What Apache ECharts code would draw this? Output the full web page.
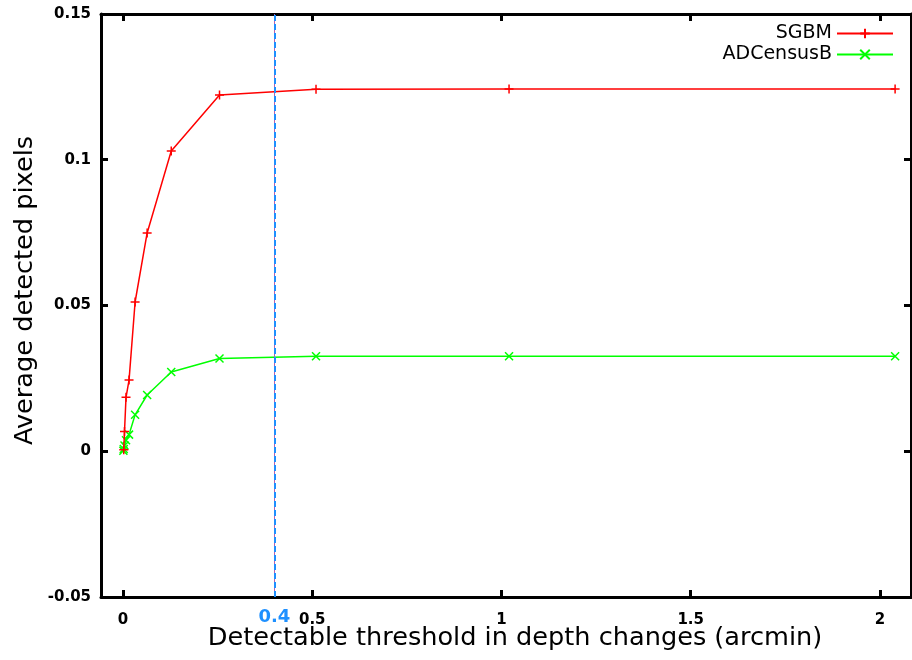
<!DOCTYPE html>
<html><head><meta charset="utf-8">
<script src="https://cdn.jsdelivr.net/npm/echarts@6/dist/echarts.min.js"></script>
<style>html,body{margin:0;padding:0;background:#fff}#c{width:912px;height:660px}</style>
</head><body><div id="c"></div>
<script>
const seriesNames = ['SGBM', 'ADCensusB'];
const sgbmX = [0.002, 0.004, 0.008, 0.016, 0.032, 0.0638, 0.1275, 0.255, 0.51, 1.02, 2.04];
const sgbmY = [0.0005, 0.0068, 0.0185, 0.0244, 0.0512, 0.0749, 0.1030, 0.1222, 0.1242, 0.1243, 0.1243];
const adX = [0.001, 0.002, 0.004, 0.008, 0.016, 0.032, 0.0638, 0.1275, 0.255, 0.51, 1.02, 2.04];
const adY = [0.0002, 0.0008, 0.0020, 0.0038, 0.0057, 0.0125, 0.0193, 0.0272, 0.0318, 0.0326, 0.0326, 0.0326];
const xTicks = [0, 0.5, 1, 1.5, 2];
const highlightX = 0.4;
const yTicks = [-0.05, 0, 0.05, 0.1, 0.15];

const plus = 'path://M0,5L10,5M5,0L5,10';
const cross = 'path://M0,0L10,10M10,0L0,10';
const zip = (xs, ys) => xs.map((x, i) => [x, ys[i]]);

const chart = echarts.init(document.getElementById('c'));
const tickFont = {fontFamily: 'DejaVu Sans', fontWeight: 'bold', fontSize: 15, color: '#000'};
const lineBase = {show: true, onZero: false, lineStyle: {color: '#000', width: 3}};
const tickBase = {show: true, inside: true, length: 7, lineStyle: {color: '#000', width: 3}};
chart.setOption({
  animation: false,
  grid: {left: 101, right: 1, top: 14, bottom: 63, outerBoundsMode: 'none', containLabel: false},
  legend: {
    orient: 'vertical', right: 18, top: 24, align: 'right', padding: 0,
    itemWidth: 56, itemHeight: 12, itemGap: 2,
    textStyle: {fontFamily: 'DejaVu Sans', fontSize: 19, color: '#000'},
    data: seriesNames
  },
  xAxis: [{
    type: 'value', min: -0.0581, max: 2.082,
    name: 'Detectable threshold in depth changes (arcmin)', nameLocation: 'middle', nameGap: 28,
    nameMoveOverlap: false,
    nameTextStyle: {fontFamily: 'DejaVu Sans', fontSize: 25.6, color: '#000', padding: [0, 0, 0, 18]},
    axisLine: lineBase,
    axisTick: {...tickBase, customValues: xTicks},
    axisLabel: {...tickFont, margin: 16, customValues: xTicks},
    splitLine: {show: false}
  }, {
    type: 'value', position: 'top', min: -0.0581, max: 2.082,
    axisLine: lineBase,
    axisTick: {...tickBase, customValues: xTicks},
    axisLabel: {show: false}, splitLine: {show: false}
  }],
  yAxis: [{
    type: 'value', min: -0.05, max: 0.15, interval: 0.05,
    name: 'Average detected pixels', nameLocation: 'middle', nameGap: 63,
    nameMoveOverlap: false,
    nameTextStyle: {fontFamily: 'DejaVu Sans', fontSize: 25.6, color: '#000', padding: [0, 0, 0, 30]},
    axisLine: lineBase,
    axisTick: {...tickBase, customValues: yTicks},
    axisLabel: {...tickFont, margin: 10, customValues: yTicks},
    splitLine: {show: false}
  }, {
    type: 'value', position: 'right', min: -0.05, max: 0.15, interval: 0.05,
    axisLine: lineBase,
    axisTick: {...tickBase, customValues: yTicks},
    axisLabel: {show: false}, splitLine: {show: false}
  }],
  series: [{
    name: seriesNames[0], type: 'line', data: zip(sgbmX, sgbmY),
    symbol: plus, symbolSize: 9,
    lineStyle: {color: '#ff0000', width: 1.5},
    itemStyle: {color: '#ff0000', borderColor: '#ff0000', borderWidth: 1.5},
    z: 3,
    markLine: {
      silent: true, symbol: 'none',
      data: [
        {xAxis: highlightX, label: {show: false}, lineStyle: {color: '#b060b0', width: 1, type: 'solid'}},
        {xAxis: highlightX, lineStyle: {color: '#1e90ff', width: 2, type: [6, 3]},
         label: {show: true, position: 'start', distance: 11, formatter: String(highlightX),
                 fontFamily: 'DejaVu Sans', fontWeight: 'bold', fontSize: 18, color: '#1e90ff'}}
      ]
    }
  }, {
    name: seriesNames[1], type: 'line', data: zip(adX, adY),
    symbol: cross, symbolSize: 8,
    lineStyle: {color: '#00ff00', width: 1.5},
    itemStyle: {color: '#00ff00', borderColor: '#00ff00', borderWidth: 1.5},
    z: 2
  }]
});
</script></body></html>
